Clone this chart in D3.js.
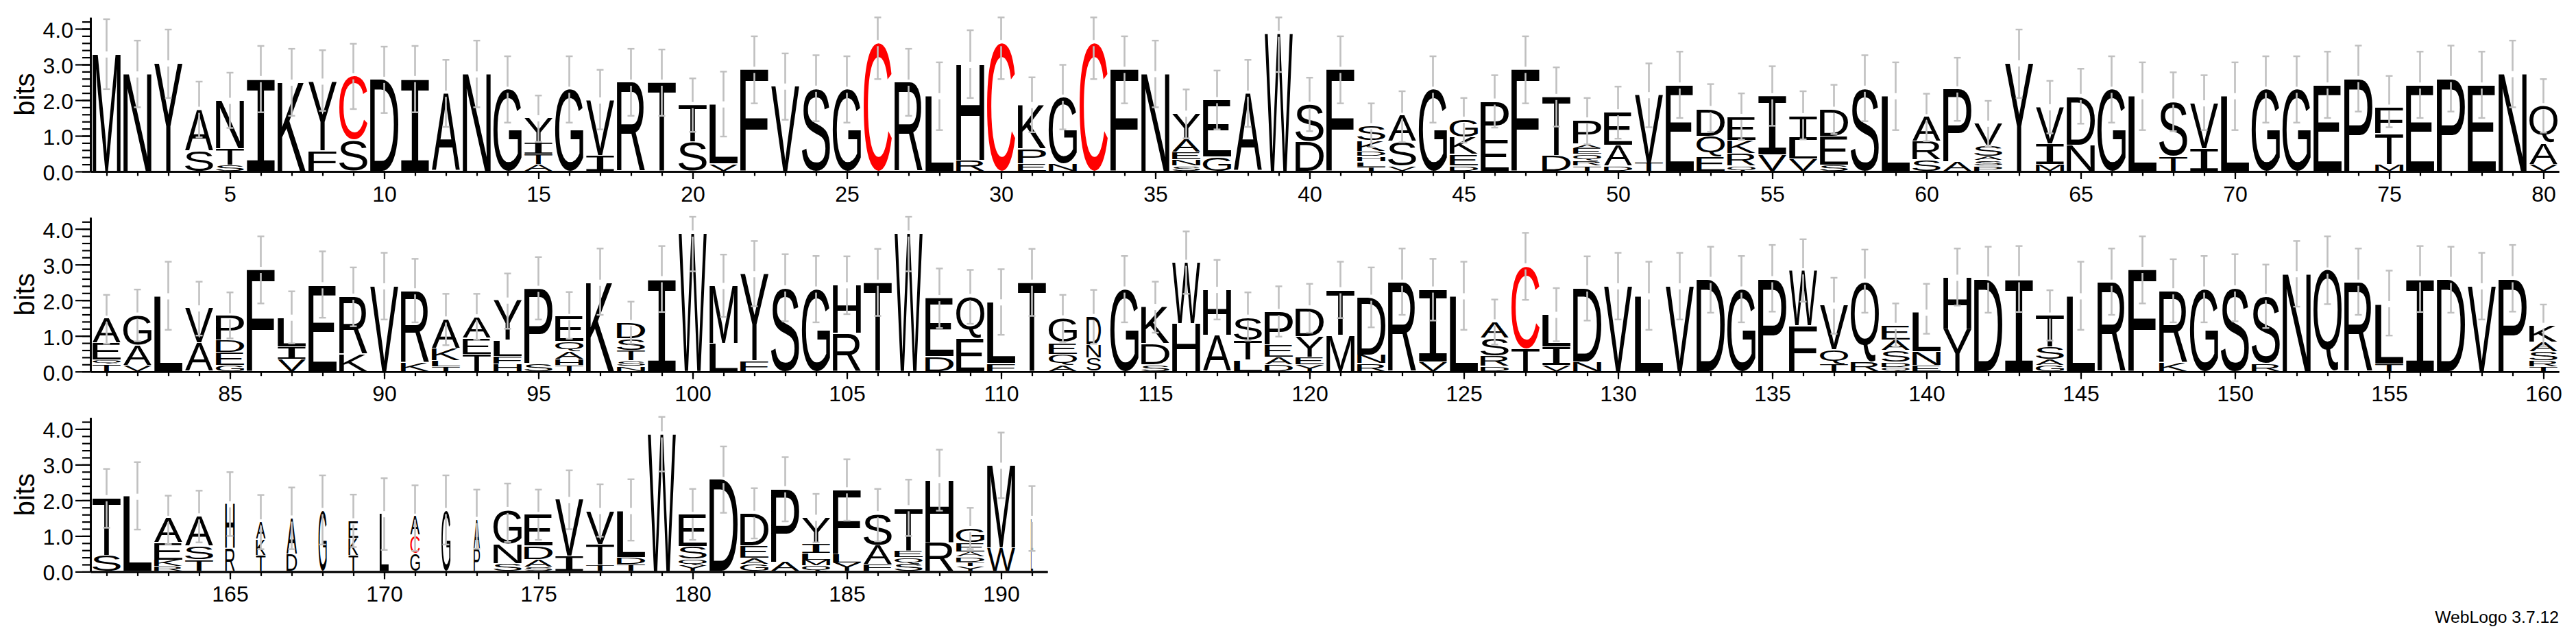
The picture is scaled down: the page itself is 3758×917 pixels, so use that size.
<!DOCTYPE html>
<html>
<head>
<meta charset="utf-8">
<title>WebLogo</title>
<script src="https://cdn.jsdelivr.net/npm/d3@7"></script>
<style>
html,body{margin:0;padding:0;background:#fff;overflow:hidden}
svg{display:block}
text{font-family:"Liberation Sans",Arial,sans-serif;fill:#000}
</style>
</head>
<body>
<svg id="logo" width="3758" height="917"></svg>
<script>
// letters in each column, bottom to top
const columnLetters = [
"M","N","Y","SA","STN","I","K","FY","SC","D","I","A","N","G","ATIY","G","IV","R","T","ST",
"VL","F","V","S","G","C","R","L","RH","C","EPK","NG","C","F","N","SNEAY","GE","A","W","DS",
"F","TLHDKS","VSA","G","DEKG","EP","F","DT","TRQEAP","DAE","TV","E","EQD","QRKE","VI","VLI","SED","S","L","SRA",
"AP","PSASV","Y","MIV","ND","G","L","TS","IV","L","G","G","E","P","MTF","E","P","E","N","VAQ",
"TQEA","VAG","L","AV","GEDP","F","VIL","E","KR","V","KR","TLKA","TEA","HFLY","SP","THAQE","K","NSTSD","I","W",
"LM","FY","S","G","RH","T","W","DE","EQ","FL","T","AQEG","SND","G","SDK","HW","AH","LTS","DAEP","YEYD",
"MT","RND","R","VI","L","DRSA","TC","VIL","ND","V","L","V","D","G","P","FW","TQV","RQ","QDSAE","ENL",
"YH","D","I","GAST","L","R","F","KR","G","S","RS","N","Q","R","TL","I","D","V","P","TRSAK",
"ST","L","RKEA","TSA","RH","TKA","DA","G","TKE","L","GCA","G","PA","SNG","SADE","IV","TTV","TDL","W","YQSE",
"D","GAED","AP","QMLIY","YLF","FAS","SQET","RH","YTDAEG","WM","LL"
];
// running top of each letter in bits, bottom to top
const columnTops = [
[3.28],[2.72],[3.03],[.57,1.73],[.17,.64,1.98],[2.59],[2.49],[.57,2.52],[.87,2.67],[2.57],[2.59],[2.18],[2.72],[2.29],[.18,.47,.79,1.49],[2.29],[.44,1.99],[2.49],[2.49],[.82,1.86],
[.2,1.88],[2.85],[2.38],[2.32],[2.29],[3.6],[2.49],[2.11],[.31,2.99],[3.6],[.21,.63,1.86],[.21,2.07],[3.6],[2.85],[2.73],[.15,.32,.53,.9,1.62],[.4,2.0],[2.18],[3.86],[.82,1.87],
[2.85],[.11,.26,.41,.55,.85,1.27],[.15,.83,1.56],[2.29],[.15,.47,.95,1.45],[.87,1.96],[2.85],[.44,2.09],[.15,.29,.47,.63,.76,1.43],[.15,.73,1.66],[.23,2.14],[2.41],[.4,.98,1.75],[.15,.5,.87,1.53],[.46,2.11],[.34,.87,1.55],[.17,.98,1.73],[2.32],[2.11],[.31,.83,1.52],
[.26,2.3],[.15,.31,.42,.73,1.34],[3.03],[.19,.77,1.8],[.73,2.09],[2.29],[2.11],[.42,1.96],[.64,1.91],[2.11],[2.29],[2.29],[2.41],[2.59],[.19,1.05,1.79],[2.41],[2.59],[2.41],[2.73],[.19,.79,1.83],
[.19,.32,.8,1.48],[.16,.73,1.57],[2.11],[.79,1.77],[.17,.53,.87,1.55],[2.85],[.34,.69,1.51],[2.42],[.48,2.1],[2.39],[.24,2.25],[.13,.29,.64,1.46],[.48,.93,1.52],[.21,.42,.87,1.99],[.22,2.32],[.16,.34,.56,.83,1.53],[2.49],[.14,.29,.59,.92,1.36],[2.59],[3.87],
[.78,2.4],[.29,2.73],[2.33],[2.3],[1.06,2.42],[2.49],[3.87],[.42,2.06],[.92,2.09],[.22,1.94],[2.49],[.16,.48,.8,1.49],[.37,.74,1.53],[2.3],[.18,.77,1.81],[1.34,3.05],[1.01,2.29],[.32,.87,1.51],[.18,.39,.74,1.67],[.18,.39,.98,1.77],
[1.01,2.28],[.22,.45,2.07],[2.49],[.26,2.3],[2.11],[.14,.43,.93,1.38],[.64,2.95],[.17,.69,1.59],[.26,2.33],[2.39],[2.11],[2.39],[2.57],[2.3],[2.59],[1.27,2.81],[.21,.6,1.85],[.26,2.52],[.11,.26,.58,.87,1.28],[.16,.55,1.65],
[1.19,2.63],[2.58],[2.59],[.17,.34,.69,1.57],[2.11],[2.49],[2.85],[.24,2.25],[2.3],[2.33],[.21,2.09],[2.73],[2.83],[2.49],[.21,1.89],[2.59],[2.57],[2.39],[2.59],[.13,.29,.55,.82,1.28],
[.45,2.06],[2.1],[.13,.32,.8,1.48],[.32,.71,1.55],[.63,1.89],[.45,.9,1.38],[.48,1.49],[1.7],[.45,.93,1.41],[1.61],[.5,1.01,1.54],[1.7],[.63,1.45],[.21,.76,1.73],[.12,.34,.71,1.59],[.42,2.01],[.17,.76,1.7],[.19,.39,1.7],[3.85],[.16,.34,.69,1.59],
[2.57],[.19,.37,.72,1.62],[.26,2.31],[.16,.32,.51,.8,1.51],[.24,.48,2.28],[.19,.72,1.61],[.21,.39,.59,1.78],[.82,2.57],[.13,.26,.4,.55,.8,1.19],[.66,2.97],[.55,1.48]
];
// error bar ends in bits
const errorHigh = [
4.27,3.67,3.98,2.52,2.77,3.52,3.44,3.40,3.58,3.50,3.52,3.13,3.67,3.23,2.13,3.23,2.85,3.44,3.42,2.61,
2.80,3.79,3.31,3.26,3.23,4.32,3.44,3.06,3.96,4.32,2.64,2.99,4.32,3.79,3.67,2.30,2.83,3.13,4.32,2.63,
3.79,1.91,2.25,3.23,2.06,2.70,3.79,2.92,2.06,2.38,3.03,3.36,2.45,2.19,2.95,2.25,2.43,3.26,3.06,2.18,
3.19,1.98,3.98,2.54,2.88,3.23,3.06,2.78,2.70,3.06,3.23,3.23,3.36,3.53,2.68,3.36,3.53,3.36,3.67,2.59,
2.15,2.30,3.08,2.52,2.22,3.79,2.25,3.37,2.92,3.33,3.16,2.18,2.18,2.75,3.21,2.23,3.45,1.96,3.52,4.34,
3.28,3.66,3.29,3.24,3.23,3.44,4.34,2.89,2.85,2.87,3.44,2.15,2.29,3.24,2.52,3.93,3.13,2.22,2.39,2.46,
3.08,2.92,3.45,3.16,3.08,2.02,3.89,2.34,3.23,3.33,3.08,3.33,3.50,3.24,3.55,3.71,2.63,3.42,1.91,2.46,
3.45,3.50,3.52,2.28,3.08,3.45,3.79,3.15,3.24,3.29,3.00,3.66,3.79,3.45,2.83,3.52,3.50,3.33,3.55,1.88,
2.88,3.07,2.13,2.27,2.79,2.15,2.36,2.70,2.16,2.62,2.42,2.70,2.30,2.47,2.30,2.84,2.45,2.59,4.34,2.32,
3.51,2.34,3.21,2.18,3.15,2.32,2.58,3.42,1.79,3.90,2.40
];
const errorLow = [
2.31,1.80,2.06,.96,1.22,1.66,1.56,1.70,1.75,1.64,1.66,1.25,1.80,1.37,.83,1.37,1.18,1.56,1.56,1.11,
.98,1.91,1.45,1.41,1.37,2.59,1.56,1.16,2.06,2.59,1.10,1.18,2.59,1.91,1.80,.93,1.18,1.25,2.79,1.13,
1.91,.68,.82,1.37,.81,1.23,1.91,1.26,.76,.92,1.24,1.50,1.11,.89,1.28,.90,1.05,1.41,1.16,.85,
1.42,.71,2.06,1.07,1.34,1.37,1.16,1.13,1.16,1.16,1.37,1.37,1.50,1.68,1.24,1.50,1.68,1.50,1.80,1.09,
.78,.85,1.17,1.01,.93,1.91,.79,1.51,1.27,1.46,1.38,.74,.89,1.20,1.46,.92,1.59,.78,1.67,2.81,
1.53,1.83,1.41,1.38,1.61,1.56,2.81,1.22,1.34,1.03,1.56,.83,.78,1.38,1.09,2.18,1.46,.87,.98,1.09,
1.50,1.24,1.59,1.43,1.17,.76,2.01,.85,1.43,1.46,1.17,1.46,1.65,1.38,1.68,1.96,1.06,1.65,.69,1.06,
1.85,1.65,1.67,.87,1.17,1.59,1.91,1.38,1.38,1.41,1.22,1.82,1.89,1.59,1.01,1.67,1.65,1.46,1.68,.71,
1.23,1.18,.77,.82,1.00,.63,.63,.76,.69,.61,.58,.76,.64,.83,.89,1.19,.98,.87,2.81,.89,
1.65,.93,1.41,.82,1.43,.85,1.00,1.71,.63,2.06,.58
];
// columns with partial coverage and how much of the full width they get
const partialColumns = [113,165,166,167,168,169,170,171,172,173,191];
const partialWeights = [.51,.34,.34,.37,.29,.34,.32,.34,.32,.22,.07];
// rows of the logo: first and last position
const rowStarts = [1,81,161];
const rowEnds = [80,160,191];
// axis labels
const bitTicks = [0,1,2,3,4];
const bitMinorTicks = d3.range(0,4.3,0.2);
const yLabel = "bits";
const creditText = "WebLogo 3.7.12";
const maxBits = Math.log2(20);

const svg = d3.select("#logo");
const colWidth = 45, firstCenter = 155.5, axisLeft = 132, bitPx = 52, firstBase = 250, rowStep = 291.7, inkWidth = 41;

// ink box of a glyph, so every letter is stretched to exactly fill its slot
const ctx = document.createElement("canvas").getContext("2d");
const metricSize = 200;
const glyphFont = l => l === "I" ? '"Liberation Mono"' : '"Liberation Sans"';
const inkCache = {};
function ink(l){
  if(!inkCache[l]){
    ctx.font = `${metricSize}px ${glyphFont(l)}`;
    const m = ctx.measureText(l);
    inkCache[l] = {left:-m.actualBoundingBoxLeft, right:m.actualBoundingBoxRight, top:-m.actualBoundingBoxAscent, bottom:m.actualBoundingBoxDescent};
  }
  return inkCache[l];
}
const weightOf = new Map(partialColumns.map((p,i)=>[p,partialWeights[i]]));

rowStarts.forEach((start,r)=>{
  const end = rowEnds[r];
  const base = firstBase + r*rowStep;
  const xRight = firstCenter + (end-start)*colWidth + colWidth/2;
  const x = d3.scaleLinear().domain([start-(firstCenter-axisLeft)/colWidth, end+0.5]).range([axisLeft, xRight]);
  const y = d3.scaleLinear().domain([0,maxBits]).range([base, base-maxBits*bitPx]);
  const positions = d3.range(start,end+1);
  const g = svg.append("g").attr("class","row");

  // stacked letters
  const cols = g.selectAll("g.col").data(positions).join("g").attr("class","col");
  cols.each(function(p){
    const letters = columnLetters[p-1].split("");
    const tops = columnTops[p-1];
    const w = inkWidth*(weightOf.get(p) ?? 1);
    const sel = d3.select(this);
    letters.forEach((l,i)=>{
      const b = ink(l);
      const yTop = y(tops[i]);
      const yBot = i===0 ? y(0)-1 : y(tops[i-1])-1.2;
      const sx = w/(b.right-b.left), sy = (yBot-yTop)/(b.bottom-b.top);
      sel.append("text")
        .attr("font-size",metricSize)
        .style("font-family",glyphFont(l))
        .style("fill",l==="C"?"#ff0000":"#000")
        .attr("transform",`translate(${x(p)-w/2},${yTop}) scale(${sx},${sy}) translate(${-b.left},${-b.top})`)
        .text(l);
    });
  });

  // error bars, broken around the top of the stack
  const errs = g.selectAll("g.err").data(positions).join("g").attr("class","err")
    .attr("stroke","#c0c0c0").attr("fill","none");
  errs.each(function(p){
    const sel = d3.select(this);
    const hi = y(errorHigh[p-1]), lo = y(errorLow[p-1]);
    const tops = columnTops[p-1];
    const t = y(tops[tops.length-1]);
    sel.append("line").attr("x1",x(p)).attr("x2",x(p)).attr("y1",hi).attr("y2",t-4.5).attr("stroke-width",2.6);
    sel.append("line").attr("x1",x(p)).attr("x2",x(p)).attr("y1",t+4.5).attr("y2",lo).attr("stroke-width",2.6);
    [hi,lo].forEach(v=>sel.append("line").attr("x1",x(p)-5).attr("x2",x(p)+5).attr("y1",v).attr("y2",v).attr("stroke-width",2.4));
  });

  // y axis
  const yMinor = g.append("g").attr("transform",`translate(${axisLeft},0)`)
    .call(d3.axisLeft(y).tickValues(bitMinorTicks).tickSize(12).tickFormat("").tickSizeOuter(0));
  const yMajor = g.append("g").attr("transform",`translate(${axisLeft},0)`)
    .call(d3.axisLeft(y).tickValues(bitTicks).tickSize(22).tickPadding(3).tickFormat(d3.format(".1f")).tickSizeOuter(0));
  // x axis
  const xMinor = g.append("g").attr("transform",`translate(0,${base})`)
    .call(d3.axisBottom(x).tickValues(positions).tickSize(6.5).tickFormat("").tickSizeOuter(0));
  const xMajor = g.append("g").attr("transform",`translate(0,${base})`)
    .call(d3.axisBottom(x).tickValues(positions.filter(p=>p%5===0)).tickSize(11).tickPadding(10).tickFormat(d3.format("d")).tickSizeOuter(0));
  [yMinor,yMajor,xMinor,xMajor].forEach(a=>{
    a.selectAll(".tick line").attr("stroke","#000").attr("stroke-width",2.2);
    a.select(".domain").attr("stroke","#000").attr("stroke-width",2.6);
    a.selectAll("text").attr("font-size",32).style("font-family",'"Liberation Sans"').attr("fill","#000");
  });
  yMajor.selectAll("text").attr("dy","0.39em");

  // y label
  g.append("text")
    .attr("transform",`translate(50,${y(maxBits/2)}) rotate(-90)`)
    .attr("text-anchor","middle").attr("font-size",40).text(yLabel);
});

svg.append("text").attr("x",3733).attr("y",908).attr("text-anchor","end").attr("font-size",24.7).text(creditText);
</script>
</body>
</html>
